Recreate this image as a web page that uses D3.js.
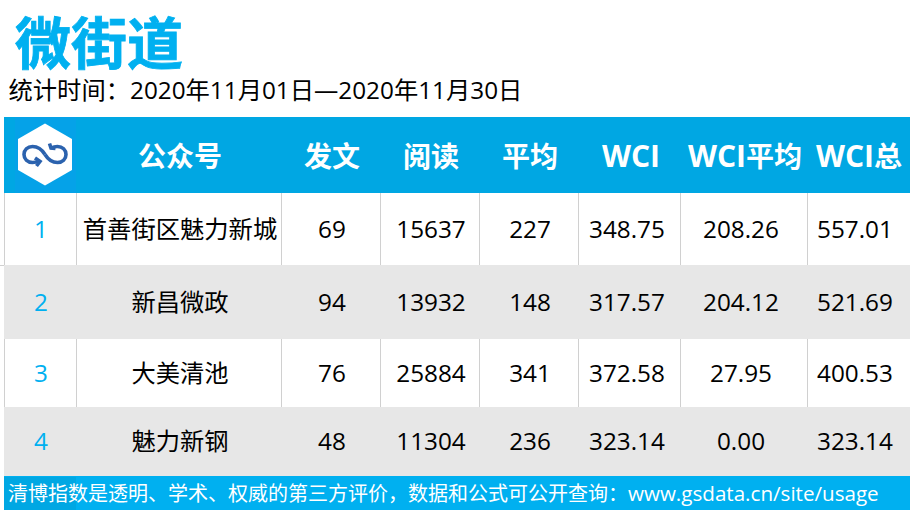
<!DOCTYPE html>
<html>
<head>
<meta charset="utf-8">
<script src="https://cdn.jsdelivr.net/npm/d3@7"></script>
<style>
html,body{margin:0;padding:0;background:#fff;}
text{font-family:"Open Sans","Noto Sans CJK SC",sans-serif;}
</style>
</head>
<body>
<div id="graph"></div>
<script>
var title = "微街道";
var period = "统计时间：2020年11月01日—2020年11月30日";
var footerText = "清博指数是透明、学术、权威的第三方评价，数据和公式可公开查询：";
var footerUrl = "www.gsdata.cn/site/usage";
var columns = ["公众号","发文","阅读","平均","WCI","WCI平均","WCI总"];
var ranks = ["1","2","3","4"];
var names = ["首善街区魅力新城","新昌微政","大美清池","魅力新钢"];
var posts = ["69","94","76","48"];
var reads = ["15637","13932","25884","11304"];
var avgs = ["227","148","341","236"];
var wci = ["348.75","317.57","372.58","323.14"];
var wciAvg = ["208.26","204.12","27.95","0.00"];
var wciTotal = ["557.01","521.69","400.53","323.14"];

var colEdges = [4,76,281,380,479,578,680,807,910];
var rowEdges = [193,265,339,407,476];
var headMid = [180,332,431,530,631,745,859];
var cellMid = [180,332,431,530,627,741,855];
var blue = "#00a7e3", sky = "#00b0f0";

var vis = d3.select("#graph").append("svg")
  .attr("width",910).attr("height",514).style("display","block");

var x = d3.scaleLinear().domain(d3.range(colEdges.length)).range(colEdges);
var y = d3.scaleLinear().domain(d3.range(rowEdges.length)).range(rowEdges);

vis.append("text").attr("x",15).attr("y",64)
  .attr("fill",sky).attr("font-size",56).attr("font-weight",700)
  .attr("stroke",sky).attr("stroke-width",0.8)
  .style("font-family",'"Noto Sans CJK SC"').text(title);
vis.append("text").attr("x",8.5).attr("y",99)
  .attr("fill","#000").attr("font-size",24.3).text(period);

// header
vis.append("rect").attr("x",4).attr("y",117).attr("width",906).attr("height",76).attr("fill",blue);
vis.append("rect").attr("x",15).attr("y",117).attr("width",61).attr("height",76).attr("fill","#05a2e8");
var hexCx = 45, hexCy = 154.5;
vis.append("path")
  .attr("d",d3.line()(d3.range(6).map(function(i){
    var a = Math.PI/3*i - Math.PI/2;
    return [hexCx+27*Math.cos(a)/Math.cos(Math.PI/6), hexCy+31*Math.sin(a)];
  }))+"Z").attr("fill","#fff");
// loop glyph in the logo
var logo = vis.append("g").attr("fill","none").attr("stroke","#2b62ae").attr("stroke-width",3.6);
logo.append("path").attr("d","M45 154.5 C41 148 37 146.5 32.5 146.5 C27.5 146.5 24 150 24 154.5 C24 159 27.5 162.5 32.5 162.5 C35 162.5 37 162 39 161");
logo.append("path").attr("d","M45 154.5 C49 161 53 162.5 57.5 162.5 C62.5 162.5 66 159 66 154.5 C66 150 62.5 146.5 57.5 146.5 C55 146.5 53 147 51 148");
logo.append("path").attr("d","M35 158 L40 161.5 L36.5 166 M49.5 143.5 L51 148 L55.5 148.5");

vis.selectAll("text.head").data(columns).enter().append("text")
  .attr("class","head")
  .attr("x",function(d,i){ return headMid[i]; })
  .attr("y",167).attr("text-anchor","middle")
  .attr("fill","#fff").attr("font-size",28).attr("font-weight",700)
  .each(function(d){
    var t = d3.select(this);
    var latin = d.match(/^[A-Z]+/);
    if (latin) t.append("tspan").attr("font-size",30).text(latin[0]);
    t.append("tspan").text(d.replace(/^[A-Z]+/,""));
  });

// rows
vis.selectAll("rect.row").data(ranks).enter().append("rect")
  .attr("class","row")
  .attr("x",4)
  .attr("y",function(d,i){ return y(i); })
  .attr("width",906)
  .attr("height",function(d,i){ return y(i+1)-y(i); })
  .attr("fill",function(d,i){ return i%2 ? "#e7e7e7" : "#fff"; });

// column rules, white rows only
[0,2].forEach(function(r){
  vis.selectAll("line.v"+r).data(d3.range(0,8)).enter().append("line")
    .attr("x1",function(c){ return x(c)+0.5; }).attr("x2",function(c){ return x(c)+0.5; })
    .attr("y1",y(r)).attr("y2",y(r+1))
    .attr("stroke","#d0d0d0").attr("stroke-width",1);
});
vis.append("line").attr("x1",0).attr("x2",4).attr("y1",265.5).attr("y2",265.5).attr("stroke","#d0d0d0");

var table = [names,posts,reads,avgs,wci,wciAvg,wciTotal];
ranks.forEach(function(r,i){
  var cy = (y(i)+y(i+1))/2 + 8.5;
  vis.append("text").attr("x",41).attr("y",cy).attr("text-anchor","middle")
    .attr("fill",sky).attr("font-size",24.3).text(r);
  vis.selectAll("text.c"+i).data(table).enter().append("text")
    .attr("class","c"+i)
    .attr("x",function(col,c){ return cellMid[c]; })
    .attr("y",cy).attr("text-anchor","middle")
    .attr("fill","#000").attr("font-size",24.3)
    .text(function(col){ return col[i]; });
});

// footer
vis.append("rect").attr("x",4).attr("y",476).attr("width",906).attr("height",34).attr("fill",sky);
vis.append("rect").attr("x",4).attr("y",477).attr("width",72).attr("height",33).attr("fill","#00a7e3");
var foot = vis.append("text").attr("x",8).attr("y",500.5).attr("fill","#fff").attr("font-size",20);
foot.append("tspan").text(footerText);
foot.append("tspan").attr("font-size",20.6).text(footerUrl);
</script>
</body>
</html>
